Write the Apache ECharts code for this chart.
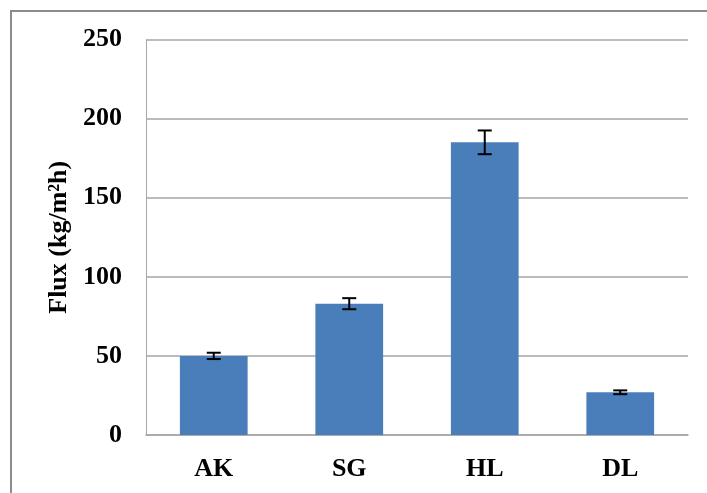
<!DOCTYPE html>
<html>
<head>
<meta charset="utf-8">
<script src="https://cdn.jsdelivr.net/npm/echarts@6/dist/echarts.min.js"></script>
<style>
  html, body { margin: 0; padding: 0; background: #ffffff; }
  #chart { width: 707px; height: 493px; }
</style>
</head>
<body>
<div id="chart"></div>
<script>
// Membrane flux per sample with standard-deviation error bars
const categories = ['AK', 'SG', 'HL', 'DL'];
const fluxValues = [50, 83, 185, 27];
const fluxErrors = [2, 3.5, 7.5, 1.2];
const yTicks = { min: 0, max: 250, interval: 50 };

const serif = '"Liberation Serif", "Times New Roman", serif';

const errorData = categories.map((c, i) => [i, fluxValues[i] - fluxErrors[i], fluxValues[i] + fluxErrors[i]]);

const chart = echarts.init(document.getElementById('chart'), null, { renderer: 'canvas' });

chart.setOption({
  animation: false,
  backgroundColor: '#ffffff',
  graphic: [
    {
      type: 'rect',
      shape: { x: 11, y: 11, width: 720, height: 500 },
      style: { fill: 'none', stroke: '#8c8c8c', lineWidth: 2 },
      silent: true
    }
  ],
  grid: { left: 146, right: 19, top: 39.5, bottom: 58 },
  xAxis: {
    type: 'category',
    data: categories,
    axisLine: { lineStyle: { color: '#a6a6a6', width: 1.5 } },
    axisTick: { show: false },
    axisLabel: {
      fontFamily: serif,
      fontWeight: 'bold',
      fontSize: 26,
      color: '#000000',
      margin: 21
    }
  },
  yAxis: {
    type: 'value',
    min: yTicks.min,
    max: yTicks.max,
    interval: yTicks.interval,
    name: 'Flux (kg/m\u00B2h)',
    nameLocation: 'middle',
    nameGap: 73,
    nameRotate: 90,
    nameTextStyle: {
      fontFamily: serif,
      fontWeight: 'bold',
      fontSize: 26,
      color: '#000000'
    },
    axisLine: { show: true, lineStyle: { color: '#a6a6a6', width: 1 } },
    axisTick: { show: false },
    splitLine: { lineStyle: { color: '#a6a6a6', width: 1.5 } },
    axisLabel: {
      fontFamily: serif,
      fontWeight: 'bold',
      fontSize: 26,
      color: '#000000',
      margin: 24
    }
  },
  series: [
    {
      type: 'bar',
      data: fluxValues,
      barWidth: '50%',
      itemStyle: { color: '#4a7ebb' },
      z: 2
    },
    {
      type: 'custom',
      data: errorData,
      z: 5,
      renderItem: function (params, api) {
        const x = api.value(0);
        const lo = api.coord([x, api.value(1)]);
        const hi = api.coord([x, api.value(2)]);
        const half = 7;
        const style = { stroke: '#000000', lineWidth: 2 };
        return {
          type: 'group',
          children: [
            { type: 'line', shape: { x1: hi[0], y1: hi[1], x2: lo[0], y2: lo[1] }, style: style },
            { type: 'line', shape: { x1: hi[0] - half, y1: hi[1], x2: hi[0] + half, y2: hi[1] }, style: style },
            { type: 'line', shape: { x1: lo[0] - half, y1: lo[1], x2: lo[0] + half, y2: lo[1] }, style: style }
          ]
        };
      }
    }
  ]
});
</script>
</body>
</html>
